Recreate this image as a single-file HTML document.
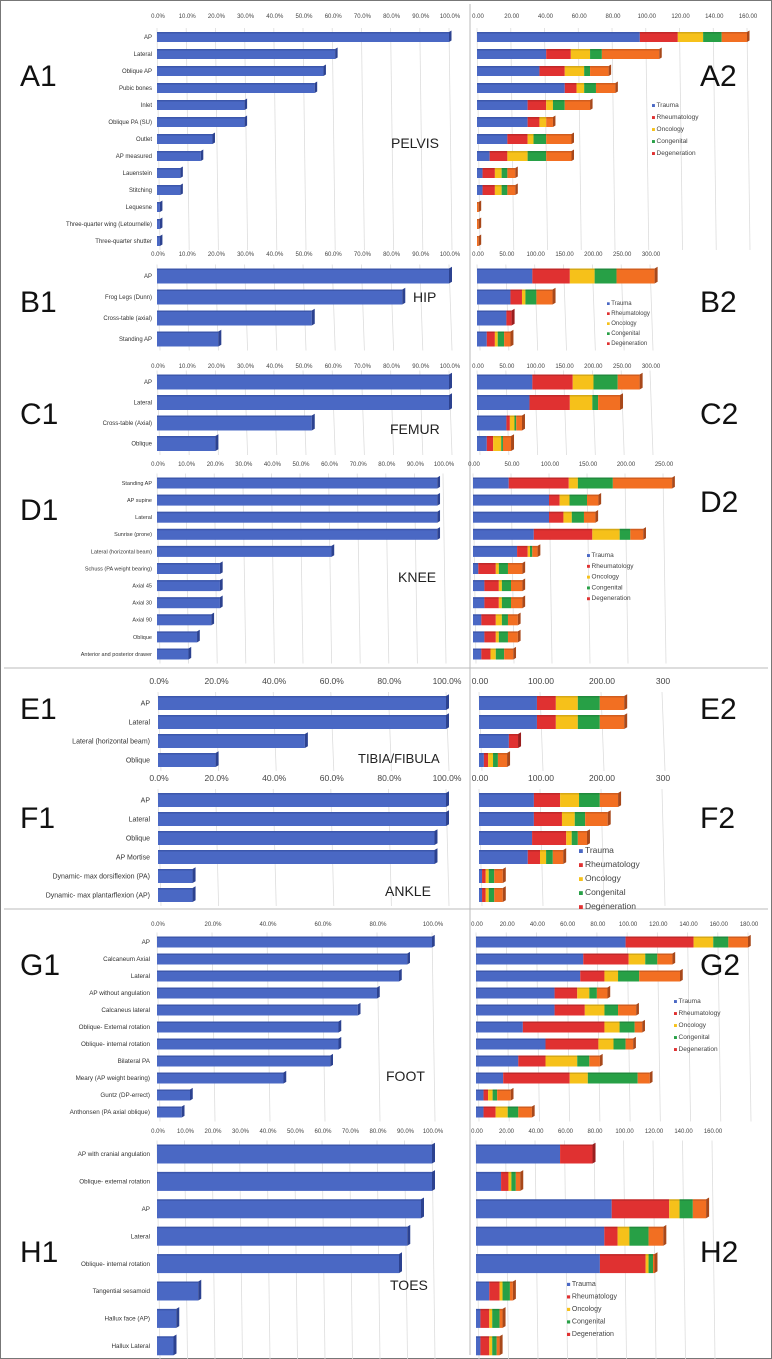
<!DOCTYPE html>
<html><head><meta charset="utf-8"><style>
html,body{margin:0;padding:0;background:#fff}
svg{display:block;font-family:"Liberation Sans",sans-serif}
</style></head><body>
<svg id="c" width="772" height="1359" viewBox="0 0 772 1359" xmlns="http://www.w3.org/2000/svg"></svg>
<script>
// ---------- DATA ----------
const catsA=["AP","Lateral","Oblique AP","Pubic bones","Inlet","Oblique PA (SU)","Outlet","AP measured","Lauenstein","Stitching","Lequesne","Three-quarter wing (Letournelle)","Three-quarter shutter"];
const pctA=[100,61,57,54,30,30,19,15,8,8,1,1,1];
const trA=[96.5,41,37,52,30,30,18,7.5,3.3,3.3,0,0,0];
const rhA=[22.5,14.6,15,7,11,7,12,10.5,7.3,7.3,0,0,0];
const onA=[15,11.4,11.5,4.5,4,4,3.5,12,4,4,0,0,0];
const coA=[11,7,3.5,7,7,0,7.5,11,3.4,3.4,0,0,0];
const deA=[15,34,11,11.5,15,4,15,15,4.7,4.7,1,1,1];

const catsB=["AP","Frog Legs (Dunn)","Cross-table (axial)","Standing AP"];
const pctB=[100,84,53,21];
const trB=[96,58,51,17];const rhB=[65,20,9,14];const onB=[43,6,0,5];const coB=[38,19,0,11];const deB=[66,28,0,11];

const catsC=["AP","Lateral","Cross-table (Axial)","Oblique"];
const pctC=[100,100,53,20];
const trC=[96,91,51,17];const rhC=[70,70,6,11];const onC=[36,39,8,14];const coC=[42,10,3,3];const deC=[38,38,10,14];

const catsD=["Standing AP","AP supine","Lateral","Sunrise (prone)","Lateral (horizontal beam)","Schuss (PA weight bearing)","Axial 45","Axial 30","Axial 90","Oblique","Anterior and posterior drawer"];
const pctD=[98,98,98,98,61,22,22,22,19,14,11];
const trD=[47,100,100,80,58,7,15,15,11,15,11];
const rhD=[79,14,19,77,14,23,19,19,19,15,12];
const onD=[12,13,11,36,3,4,4,4,8,4,7];
const coD=[46,23,16,14,3,12,12,12,8,12,11];
const deD=[78,15,15,17,7,19,15,15,13,13,12];

const catsE=["AP","Lateral","Lateral (horizontal beam)","Oblique"];
const pctE=[100,100,51,20];
const trE=[95,95,49,8];const rhE=[31,31,15,7];const onE=[36,36,0,8];const coE=[36,36,0,8];const deE=[40,40,0,15];

const catsF=["AP","Lateral","Oblique","AP Mortise","Dynamic- max dorsiflexion (PA)","Dynamic- max plantarflexion (AP)"];
const pctF=[100,100,96,96,12,12];
const trF=[90,90,87,80,5,5];const rhF=[43,46,56,20,6,6];const onF=[31,21,9,10,5,5];const coF=[34,17,10,11,9,9];const deF=[30,37,15,17,14,14];

const catsG=["AP","Calcaneum Axial","Lateral","AP without angulation","Calcaneus lateral","Oblique- External rotation","Oblique- internal rotation","Bilateral PA","Meary (AP weight bearing)","Guntz (DP-errect)","Anthonsen (PA axial oblique)"];
const pctG=[100,91,88,80,73,66,66,63,46,12,9];
const trG=[99,71,69,52,52,31,46,28,18,5,5];
const rhG=[45,30,16,15,20,54,35,18,44,3,8];
const onG=[13,11,9,8,13,10,10,21,12,3,8];
const coG=[10,8,14,5,9,10,8,8,33,3,7];
const deG=[13,10,27,7,12,5,5,7,8,9,9];

const catsH=["AP with cranial angulation","Oblique- external rotation","AP","Lateral","Oblique- internal rotation","Tangential sesamoid","Hallux face (AP)","Hallux Lateral"];
const pctH=[100,100,96,91,88,15,7,6];
const trH=[57,17,92,87,84,9,3,3];const rhH=[22,5,39,9,31,7,6,6];const onH=[0,2,7,8,2,2,2,2];const coH=[0,3,9,13,3,5,5,3];const deH=[0,3,9,10,1,2,2,2];

const legendNames=["Trauma","Rheumatology","Oncology","Congenital","Degeneration"];
const pctTicks10=[0,10,20,30,40,50,60,70,80,90,100];
const pctTicks20=[0,20,40,60,80,100];
const rTicks160=[0,20,40,60,80,100,120,140,160];
const rTicks180=[0,20,40,60,80,100,120,140,160,180];
const rTicks300=[0,50,100,150,200,250,300];
const rTicks250=[0,50,100,150,200,250];
const rTicks300b=[0,100,200,300];

// ---------- DRAWING ----------
const NS="http://www.w3.org/2000/svg";
const svg=document.getElementById('c');
const COL=["#4a68c4","#e03131","#f6c11a","#27a046","#f26f22"];
const DARK=["#2c4290","#9a1e1e","#b08a10","#1a6e30","#a8481a"];
function mk(tag,attrs,parent){const e=document.createElementNS(NS,tag);for(const k in attrs)e.setAttribute(k,attrs[k]);(parent||svg).appendChild(e);return e;}
function txt(x,y,s,size,anchor,parent,fill){const t=mk('text',{x:x,y:y,'font-size':size,'text-anchor':anchor||'start',fill:fill||'#333'},parent);t.textContent=s;return t;}
function scale(d0,d1,r0,r1){return v=>r0+(v-d0)/(d1-d0)*(r1-r0);}

const frame=mk('rect',{x:0.5,y:0.5,width:771,height:1358,fill:'none',stroke:'#777','stroke-width':1});


const vdiv=mk('line',{x1:470,y1:4,x2:470,y2:1355,stroke:'#bbb','stroke-width':1});


[668,909].forEach(y=>{const l=mk('line',{x1:4,y1:y,x2:768,y2:y,stroke:'#bbb','stroke-width':1});

});

function bar3d(g,x,y,w,h,ci){
  if(w<=0)return;
  mk('rect',{x:x,y:y,width:w,height:h,fill:COL[ci]},g);
  mk('rect',{x:x,y:y,width:w,height:1.5,fill:DARK[ci],opacity:0.45},g);
}
function face(g,x,y,h,ci){
  const d=Math.min(3,h*0.25);
  mk('polygon',{points:`${x},${y} ${x+d},${y-d*0.6} ${x+d},${y+h-d*0.6} ${x},${y+h}`,fill:DARK[ci]},g);
}

function axis(y,ticks,sx,fmt,size,name){
  const g=mk('g',{});
  
  
  ticks.forEach(v=>{txt(sx(v)+1,y,fmt(v),size,'middle',g,'#444');});
}
function grid(ticks,sx,y0,y1,name){
  const g=mk('g',{});
  
  
  ticks.forEach(v=>{mk('line',{x1:sx(v),y1:y0,x2:sx(v)+3,y2:y1,stroke:'#ddd','stroke-width':0.8},g);});
}

function panel(p){
  const n=p.cats.length;
  const ys=i=>p.y0+i*p.step;
  const lx=scale(0,100,p.lx0,p.lx1);
  const rx=scale(0,p.rmax,p.rx0,p.rx1);
  grid(p.lgrid,lx,ys(0)-p.bh/2-4,ys(n-1)+p.bh/2+4,p.key+'-left-grid');
  grid(p.rgrid,rx,ys(0)-p.bh/2-4,ys(n-1)+p.bh/2+4,p.key+'-right-grid');
  const gl=mk('g',{});
  
  
  const gr=mk('g',{});
  
  
  for(let i=0;i<n;i++){
    const y=ys(i)-p.bh/2;
    const lab=txt(p.labX,ys(i)+p.fs*0.35,p.cats[i],p.fs,'end',gl,'#333');
    
    
    const b=mk('g',{},gl);
    
    
    const w=lx(p.pct[i])-lx(0);
    bar3d(b,lx(0),y,w,p.bh,0);face(b,lx(0)+w,y,p.bh,0);
    const sb=mk('g',{},gr);
    
    
    let acc=0,last=4;
    p.series.forEach((s,k)=>{const x=rx(acc);const w2=rx(acc+s[i])-x;if(s[i]>0){bar3d(sb,x,y,w2,p.bh,k);last=k;}acc+=s[i];});
    face(sb,rx(acc),y,p.bh,last===0?4:last);
  }
}

function legend(x,y,dy,fs,name){
  const g=mk('g',{});
  
  
  legendNames.forEach((s,i)=>{
    const e=mk('g',{},g);
    
    
    mk('rect',{x:x,y:y+i*dy-fs*0.45,width:fs*0.45,height:fs*0.45,fill:i===4?COL[1]:COL[i]},e);
    txt(x+fs*0.7,y+i*dy,s,fs,'start',e,'#444');
  });
}
function big(x,y,s,size,name){const t=txt(x,y,s,size,'start',null,'#111');}

const pf=v=>v.toFixed(1)+'%';
const rf=v=>v.toFixed(2);

// A
axis(18,pctTicks10,scale(0,100,157,449),pf,6,'pelvis-left-axis');
axis(18,rTicks160,scale(0,160,477,747),rf,6,'pelvis-right-axis');
panel({key:'pelvis',cats:catsA,pct:pctA,series:[trA,rhA,onA,coA,deA],y0:37,step:17,bh:10,lx0:157,lx1:449,rx0:477,rx1:747,rmax:160,labX:152,fs:6,lgrid:pctTicks10,rgrid:rTicks160});
legend(652,107,12,6.5,'pelvis-legend');
big(20,86,'A1',30,'panel-label-a1');big(700,86,'A2',30,'panel-label-a2');
txt(391,148,'PELVIS',14,'start',null,'#222');

// B
axis(256,pctTicks10,scale(0,100,157,449),pf,6,'hip-left-axis');
axis(256,rTicks300,scale(0,300,477,650),rf,6,'hip-right-axis');
panel({key:'hip',cats:catsB,pct:pctB,series:[trB,rhB,onB,coB,deB],y0:276,step:21,bh:15,lx0:157,lx1:449,rx0:477,rx1:650,rmax:300,labX:152,fs:6,lgrid:pctTicks10,rgrid:rTicks300});
legend(607,305,10,6,'hip-legend');
big(20,312,'B1',30,'panel-label-b1');big(700,312,'B2',30,'panel-label-b2');
txt(413,302,'HIP',14,'start',null,'#222');

// C
axis(368,pctTicks10,scale(0,100,157,449),pf,6,'femur-left-axis');
axis(368,rTicks300,scale(0,300,477,650),rf,6,'femur-right-axis');
panel({key:'femur',cats:catsC,pct:pctC,series:[trC,rhC,onC,coC,deC],y0:382,step:20.5,bh:15,lx0:157,lx1:449,rx0:477,rx1:650,rmax:300,labX:152,fs:6,lgrid:pctTicks10,rgrid:rTicks300});
big(20,424,'C1',30,'panel-label-c1');big(700,424,'C2',30,'panel-label-c2');
txt(390,434,'FEMUR',14,'start',null,'#222');

// D
axis(466,pctTicks10,scale(0,100,157,443),pf,6,'knee-left-axis');
axis(466,rTicks250,scale(0,250,473,663),rf,6,'knee-right-axis');
panel({key:'knee',cats:catsD,pct:pctD,series:[trD,rhD,onD,coD,deD],y0:483,step:17.1,bh:11,lx0:157,lx1:443,rx0:473,rx1:663,rmax:250,labX:152,fs:5.5,lgrid:pctTicks10,rgrid:rTicks250});
legend(587,557,10.8,6.5,'knee-legend');
big(20,520,'D1',30,'panel-label-d1');big(700,512,'D2',30,'panel-label-d2');
txt(398,582,'KNEE',14,'start',null,'#222');

// E
axis(684,pctTicks20,scale(0,100,158,446),pf,8.5,'tibia-left-axis');
axis(684,rTicks300b,scale(0,300,479,662),v=>v===300?'300':rf(v),8.5,'tibia-right-axis');
panel({key:'tibia-fibula',cats:catsE,pct:pctE,series:[trE,rhE,onE,coE,deE],y0:703,step:19,bh:14,lx0:158,lx1:446,rx0:479,rx1:662,rmax:300,labX:150,fs:7,lgrid:pctTicks20,rgrid:rTicks300b});
big(20,719,'E1',30,'panel-label-e1');big(700,719,'E2',30,'panel-label-e2');
txt(358,763,'TIBIA/FIBULA',13,'start',null,'#222');

// F
axis(781,pctTicks20,scale(0,100,158,446),pf,8.5,'ankle-left-axis');
axis(781,rTicks300b,scale(0,300,479,662),v=>v===300?'300':rf(v),8.5,'ankle-right-axis');
panel({key:'ankle',cats:catsF,pct:pctF,series:[trF,rhF,onF,coF,deF],y0:800,step:19,bh:14,lx0:158,lx1:446,rx0:479,rx1:662,rmax:300,labX:150,fs:7,lgrid:pctTicks20,rgrid:rTicks300b});
legend(579,853,14,8.5,'ankle-legend');
big(20,828,'F1',30,'panel-label-f1');big(700,828,'F2',30,'panel-label-f2');
txt(385,896,'ANKLE',14,'start',null,'#222');

// G
axis(926,pctTicks20,scale(0,100,157,432),pf,6,'foot-left-axis');
axis(926,rTicks180,scale(0,180,476,748),rf,6,'foot-right-axis');
panel({key:'foot',cats:catsG,pct:pctG,series:[trG,rhG,onG,coG,deG],y0:942,step:17,bh:11,lx0:157,lx1:432,rx0:476,rx1:748,rmax:180,labX:150,fs:6.3,lgrid:pctTicks20,rgrid:rTicks180});
legend(674,1003,12,6.5,'foot-legend');
big(20,975,'G1',30,'panel-label-g1');big(700,975,'G2',30,'panel-label-g2');
txt(386,1081,'FOOT',14,'start',null,'#222');

// H
axis(1133,pctTicks10,scale(0,100,157,432),pf,6,'toes-left-axis');
axis(1133,rTicks160,scale(0,160,476,712),rf,6,'toes-right-axis');
panel({key:'toes',cats:catsH,pct:pctH,series:[trH,rhH,onH,coH,deH],y0:1154,step:27.4,bh:19,lx0:157,lx1:432,rx0:476,rx1:712,rmax:160,labX:150,fs:6.3,lgrid:pctTicks10,rgrid:rTicks160});
legend(567,1286,12.5,7,'toes-legend');
big(20,1262,'H1',30,'panel-label-h1');big(700,1262,'H2',30,'panel-label-h2');
txt(390,1290,'TOES',14,'start',null,'#222');
</script>
</body></html>
